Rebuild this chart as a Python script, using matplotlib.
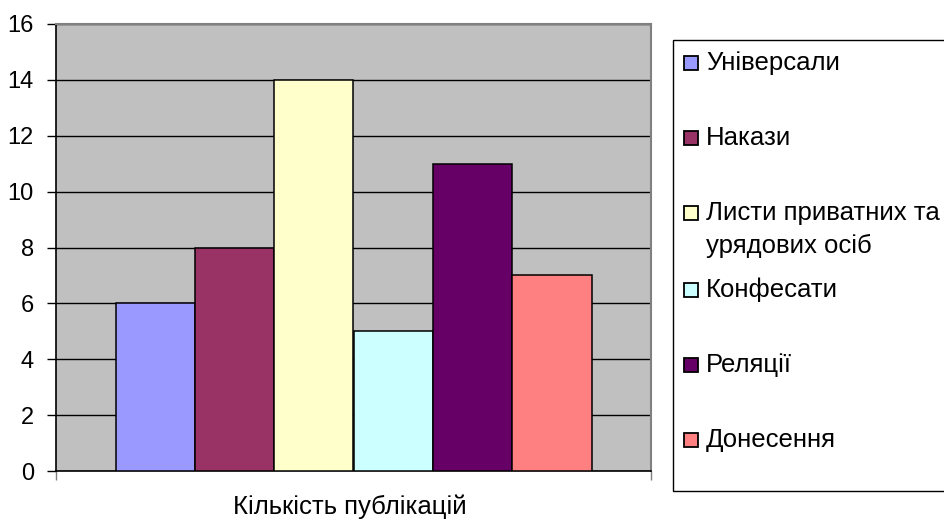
import matplotlib
matplotlib.use("Agg")
import matplotlib.pyplot as plt
from matplotlib.patches import Rectangle

plt.rcParams["font.family"] = ["Liberation Sans", "DejaVu Sans"]

categories = ["Універсали", "Накази", "Листи приватних та\nурядових осіб",
              "Конфесати", "Реляції", "Донесення"]
values = [6, 8, 14, 5, 11, 7]
colors = ["#9999FF", "#993366", "#FFFFCC", "#CCFFFF", "#660066", "#FF8080"]
xlabel = "Кількість публікацій"

W, H = 944, 521
FS = 18.5
fig = plt.figure(figsize=(W / 100, H / 100), dpi=100)

def fx(px):
   return px / W

def fy(py):
   return 1 - py / H

ax = fig.add_axes([fx(56), fy(471), fx(651) - fx(56), fy(24) - fy(471)])
ax.set_facecolor("#C0C0C0")

xs = range(len(values))
ax.bar(xs, values, width=1.0, color=colors, edgecolor="black", linewidth=1.1, zorder=3)

ax.set_ylim(0, 16)
ax.set_xlim(-1.25, 6.25)
ax.set_yticks(range(0, 17, 2))
ax.tick_params(axis="y", labelsize=17, length=6.5, width=1, color="black", pad=9.5)
ax.yaxis.grid(True, color="black", linewidth=1, zorder=1)
ax.set_xticks([-1.25, 6.25])
ax.set_xticklabels(["", ""])
ax.tick_params(axis="x", length=6.5, width=1, color="#808080")

for side in ["top", "right"]:
   ax.spines[side].set_color("#808080")
   ax.spines[side].set_linewidth(1.5)
ax.spines["left"].set_color("black")
ax.spines["left"].set_linewidth(1.2)
ax.spines["bottom"].set_color("black")
ax.spines["bottom"].set_linewidth(1.2)

fig.text(fx(350), fy(507), xlabel, ha="center", va="center", fontsize=FS)

# legend box, drawn by hand to match the spacing of the original
fig.add_artist(Rectangle((fx(673), fy(491)), fx(1000) - fx(673), fy(40) - fy(491),
                         transform=fig.transFigure, facecolor="white",
                         edgecolor="black", linewidth=1, clip_on=False))
entry_y = [63, 138, 213, 290, 365, 440]
for label, color, py in zip(categories, colors, entry_y):
   fig.add_artist(Rectangle((fx(684), fy(py + 7)), fx(14), 14 / H,
                            transform=fig.transFigure, facecolor=color,
                            edgecolor="black", linewidth=1.3))
   lines = label.split("\n")
   for i, line in enumerate(lines):
      fig.text(fx(706), fy(py + 33 * i), line, ha="left", va="center", fontsize=FS)

fig.savefig("out.png", dpi=100)
